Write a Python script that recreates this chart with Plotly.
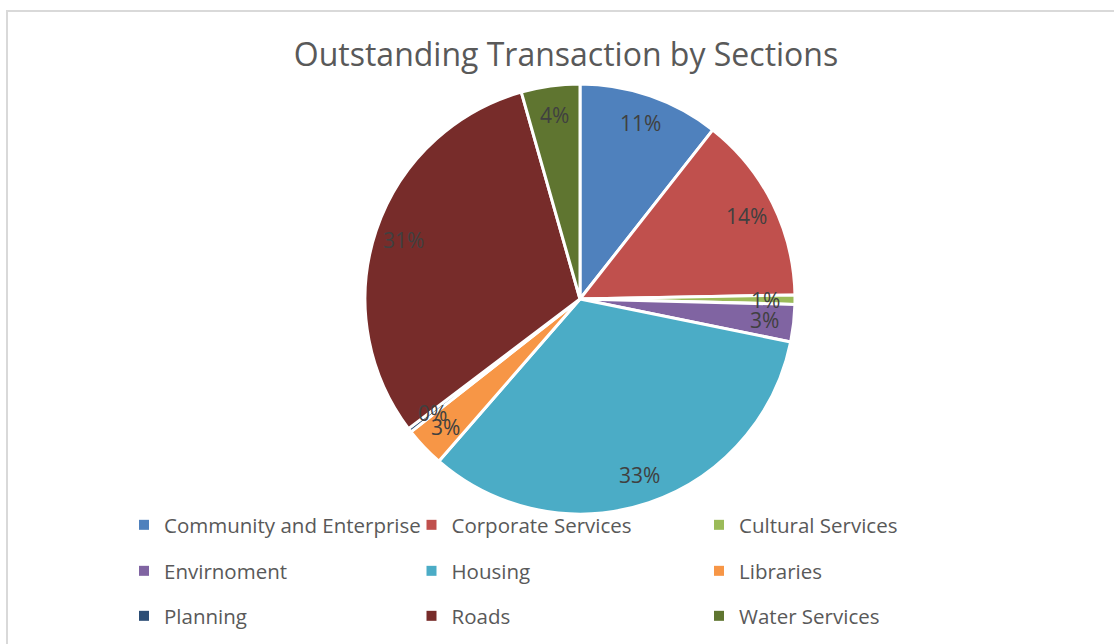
import math
import plotly.graph_objects as go

# ---- data ----
categories = ["Community and Enterprise", "Corporate Services", "Cultural Services",
              "Envirnoment", "Housing", "Libraries",
              "Planning", "Roads", "Water Services"]
values = [10.6, 14.1, 0.7, 2.8, 33.2, 3.0, 0.3, 30.9, 4.4]
colors = ["#4F81BD", "#C0504D", "#9BBB59", "#8064A2", "#4BACC6", "#F79646",
          "#2C4D75", "#772C2A", "#5F7530"]
title_text = "Outstanding Transaction by Sections"

W, H = 1114, 644
cx, cy, R = 580, 299, 215
dom_x = [(cx - R) / W, (cx + R) / W]
dom_y = [1 - (cy + R) / H, 1 - (cy - R) / H]

fig = go.Figure()
fig.add_trace(go.Pie(
    labels=categories, values=values, sort=False, direction="clockwise", rotation=0,
    marker=dict(colors=colors, line=dict(color="white", width=3)),
    textinfo="none", hoverinfo="label+percent", showlegend=False,
    domain=dict(x=dom_x, y=dom_y),
))

# legend entries (3 rows of 3)
legend_names = ["legend", "legend2", "legend3"]
for i, (c, col) in enumerate(zip(categories, colors)):
    fig.add_trace(go.Scatter(
        x=[None], y=[None], mode="markers", name=c,
        marker=dict(symbol="square", size=10, color=col),
        legend=legend_names[i // 3], showlegend=True, hoverinfo="skip",
    ))

# percentage labels placed inside slices via a hidden axis matching the pie
total = sum(values)
cum = 0.0
annotations = []
for v in values:
    mid = (cum + v / 2) / total * 2 * math.pi
    cum += v
    r = 0.865
    annotations.append(dict(
        x=r * math.sin(mid), y=r * math.cos(mid), xref="x", yref="y",
        text=f"{round(v / total * 100)}%", showarrow=False,
        font=dict(family="Open Sans", size=21, color="#404040"),
        xanchor="center", yanchor="middle",
    ))

row_y = [525, 571, 616]
legend_common = dict(
    orientation="h", entrywidth=242.5, entrywidthmode="pixels",
    font=dict(family="Open Sans", size=20.5, color="#595959"),
    bgcolor="rgba(0,0,0,0)", xanchor="left", yanchor="middle",
    itemclick=False, itemdoubleclick=False, traceorder="normal",
)

fig.update_layout(
    width=W, height=H, autosize=False,
    margin=dict(l=0, r=0, t=0, b=0),
    paper_bgcolor="white", plot_bgcolor="rgba(0,0,0,0)",
    title=dict(text=title_text, x=566 / W, xanchor="center", y=1 - 55 / H, yanchor="middle",
               font=dict(family="Open Sans", size=32, color="#595959")),
    xaxis=dict(domain=dom_x, range=[-1, 1], visible=False, fixedrange=True),
    yaxis=dict(domain=dom_y, range=[-1, 1], visible=False, fixedrange=True),
    annotations=annotations,
    legend=dict(x=124 / W, y=1 - row_y[0] / H, **legend_common),
    legend2=dict(x=124 / W, y=1 - row_y[1] / H, **legend_common),
    legend3=dict(x=124 / W, y=1 - row_y[2] / H, **legend_common),
    shapes=[dict(type="rect", xref="paper", yref="paper",
                 x0=7 / W, x1=1.05, y0=-0.05, y1=1 - 11 / H,
                 line=dict(color="#D9D9D9", width=2), fillcolor="rgba(0,0,0,0)", layer="below")],
)

fig.write_html("out.html", config={"displayModeBar": False},
               post_script="document.body.style.margin='0';")
